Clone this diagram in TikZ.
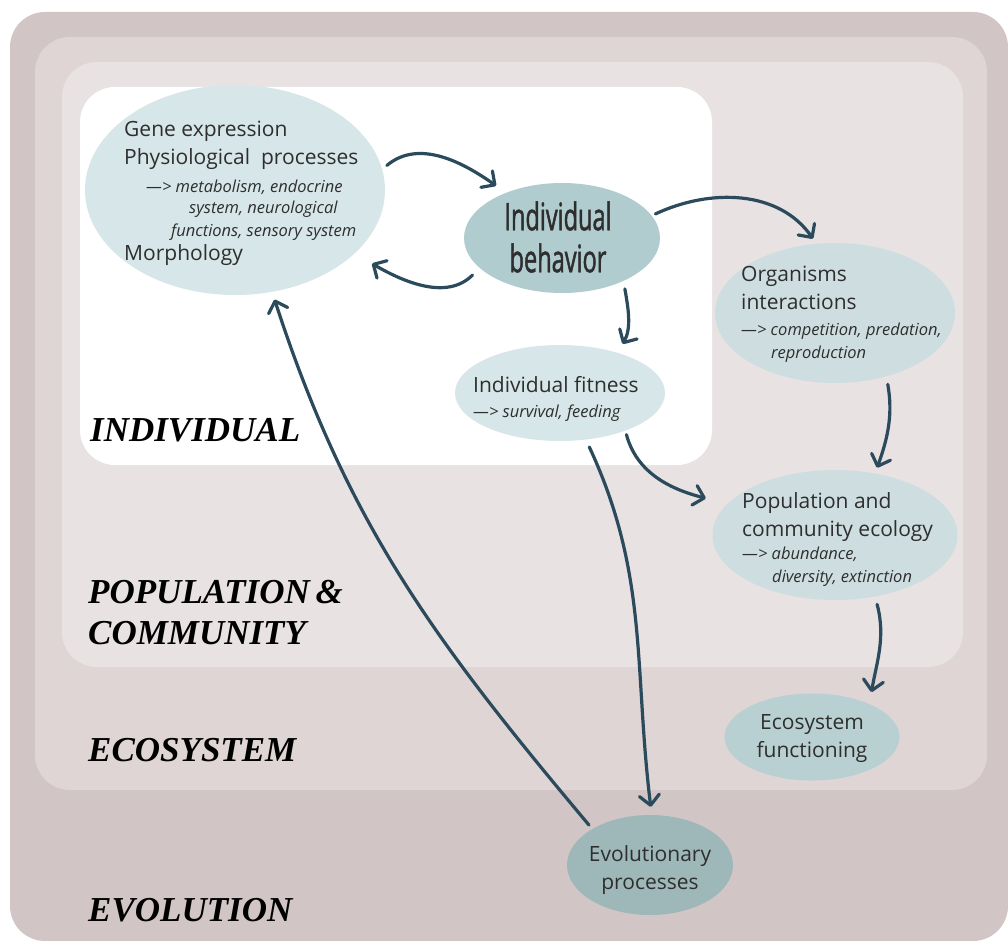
\documentclass[tikz,border=0pt]{standalone}
\usepackage{fontspec}
\setmainfont{Open Sans}
\newfontfamily\tagfont{Liberation Serif}
\newfontfamily\condfont[FakeStretch=0.62,FakeBold=1.2]{Open Sans}
\usetikzlibrary{shapes.geometric,arrows.meta}
\definecolor{evolbg}{HTML}{D1C6C5}
\definecolor{ecobg}{HTML}{DFD5D4}
\definecolor{popbg}{HTML}{E8E2E3}
\definecolor{paleblob}{HTML}{D7E6E8}
\definecolor{greyblob}{HTML}{CEDEE0}
\definecolor{midblob}{HTML}{B0CCCF}
\definecolor{ecoblob}{HTML}{B9D0D2}
\definecolor{deepblob}{HTML}{9EB8BA}
\definecolor{ink}{HTML}{2B4A5C}
\definecolor{txtgrey}{HTML}{2E2E2E}
\newcommand{\detail}[1]{{\fontsize{16.5}{20}\selectfont\itshape #1}}

\begin{document}
\begin{tikzpicture}[x=1pt, y=1pt,
    level/.style={rounded corners=35pt},
    blob/.style={ellipse, inner sep=0pt},
    txt/.style={text=txtgrey, align=left, inner sep=0pt, font=\fontsize{21}{28}\selectfont},
    tag/.style={anchor=west, align=left, inner sep=0pt, font=\tagfont\bfseries\itshape\fontsize{35}{41}\selectfont},
    arr/.style={ink, line width=3.2pt, line cap=round, -{Straight Barb[length=10pt,width=20pt,round]}}]
    \useasboundingbox (0,0) rectangle (1008,-941);

    % nested levels
    \fill[evolbg, level] (10,-12) rectangle (1008,-941);
    \fill[ecobg, level]  (35,-37) rectangle (987,-790);
    \fill[popbg, level]  (62,-62) rectangle (963,-667);
    \fill[white, level]  (80,-87) rectangle (712,-465);

    \node[tag] (tind) at (90,-430)  {INDIVIDUAL};
    \node[tag] (tpop) at (88,-613)  {POPULATION\,\&\\COMMUNITY};
    \node[tag] (teco) at (88,-750)  {ECOSYSTEM};
    \node[tag] (tevo) at (88,-910)  {EVOLUTION};

    % blobs
    \node[blob, fill=paleblob, minimum width=300pt, minimum height=210pt] (gene)  at (235,-190) {};
    \node[blob, fill=midblob,  minimum width=196pt, minimum height=110pt] (behav) at (562,-238) {};
    \node[blob, fill=paleblob, minimum width=210pt, minimum height=96pt]  (fit)   at (560,-393) {};
    \node[blob, fill=greyblob, minimum width=240pt, minimum height=140pt] (org)   at (835,-313) {};
    \node[blob, fill=greyblob, minimum width=245pt, minimum height=130pt] (pop)   at (835,-535) {};
    \node[blob, fill=ecoblob,  minimum width=175pt, minimum height=87pt]  (eco)   at (812,-737) {};
    \node[blob, fill=deepblob, minimum width=166pt, minimum height=100pt] (evo)   at (650,-865) {};

    % texts
    \node[txt, anchor=west] (genetext) at (124,-193) {Gene expression\\
        Physiological\ \ processes\\
        \detail{\hspace*{22pt}—> metabolism, endocrine}\\[-7pt]
        \detail{\hspace*{65pt}system, neurological}\\[-5pt]
        \detail{\hspace*{47pt}functions, sensory system}\\[-4pt]
        Morphology};
    \node[text=txtgrey, align=center, font=\condfont\fontsize{38}{42}\selectfont] (behavtext) at (558,-237) {Individual\\behavior};
    \node[txt, anchor=west] (fittext) at (473,-399) {Individual fitness\\[-3pt]
        \detail{—> survival, feeding}};
    \node[txt, anchor=west] (orgtext) at (741,-314) {Organisms\\
        interactions\\[-2pt]
        \detail{—> competition, predation,}\\[-5pt]
        \detail{\hspace*{30pt}reproduction}};
    \node[txt, anchor=west] (poptext) at (742,-540) {Population and\\
        community ecology\\[-5pt]
        \detail{—> abundance,}\\[-5pt]
        \detail{\hspace*{30pt}diversity, extinction}};
    \node[txt, align=center] (ecotext) at (812,-739) {Ecosystem\\functioning};
    \node[txt, align=center] (evotext) at (650,-870) {Evolutionary\\processes};

    % connectors
    \draw[arr, shorten <=6pt, shorten >=12pt] (gene.8) to[out=40,in=145] (behav.141);
    \draw[arr, shorten <=10pt, shorten >=20pt] (behav.200) to[out=-135,in=-30] (gene.-28);
    \draw[arr, shorten <=4pt, shorten >=6pt] (behav.14) to[out=25,in=125] (org.105);
    \draw[arr, shorten <=8pt, shorten >=10pt] (behav.-35) to[out=-80,in=60] (fit.35);
    \draw[arr, shorten <=8pt, shorten >=6pt] (org.-51) to[out=-80,in=70] (pop.57);
    \draw[arr, shorten <=4pt, shorten >=22pt] (fit.-30) to[out=-75,in=165] (pop.164);
    \draw[arr, shorten <=8pt, shorten >=8pt] (fit.-61) to[out=-65,in=97] (evo.88);
    \draw[arr, shorten <=5pt, shorten >=8pt] (evo.148) to[out=130,in=-72] (gene.-70);
    \draw[arr, shorten <=8pt, shorten >=12pt] (pop.-57) to[out=-75,in=80] (eco.30);
\end{tikzpicture}
\end{document}
